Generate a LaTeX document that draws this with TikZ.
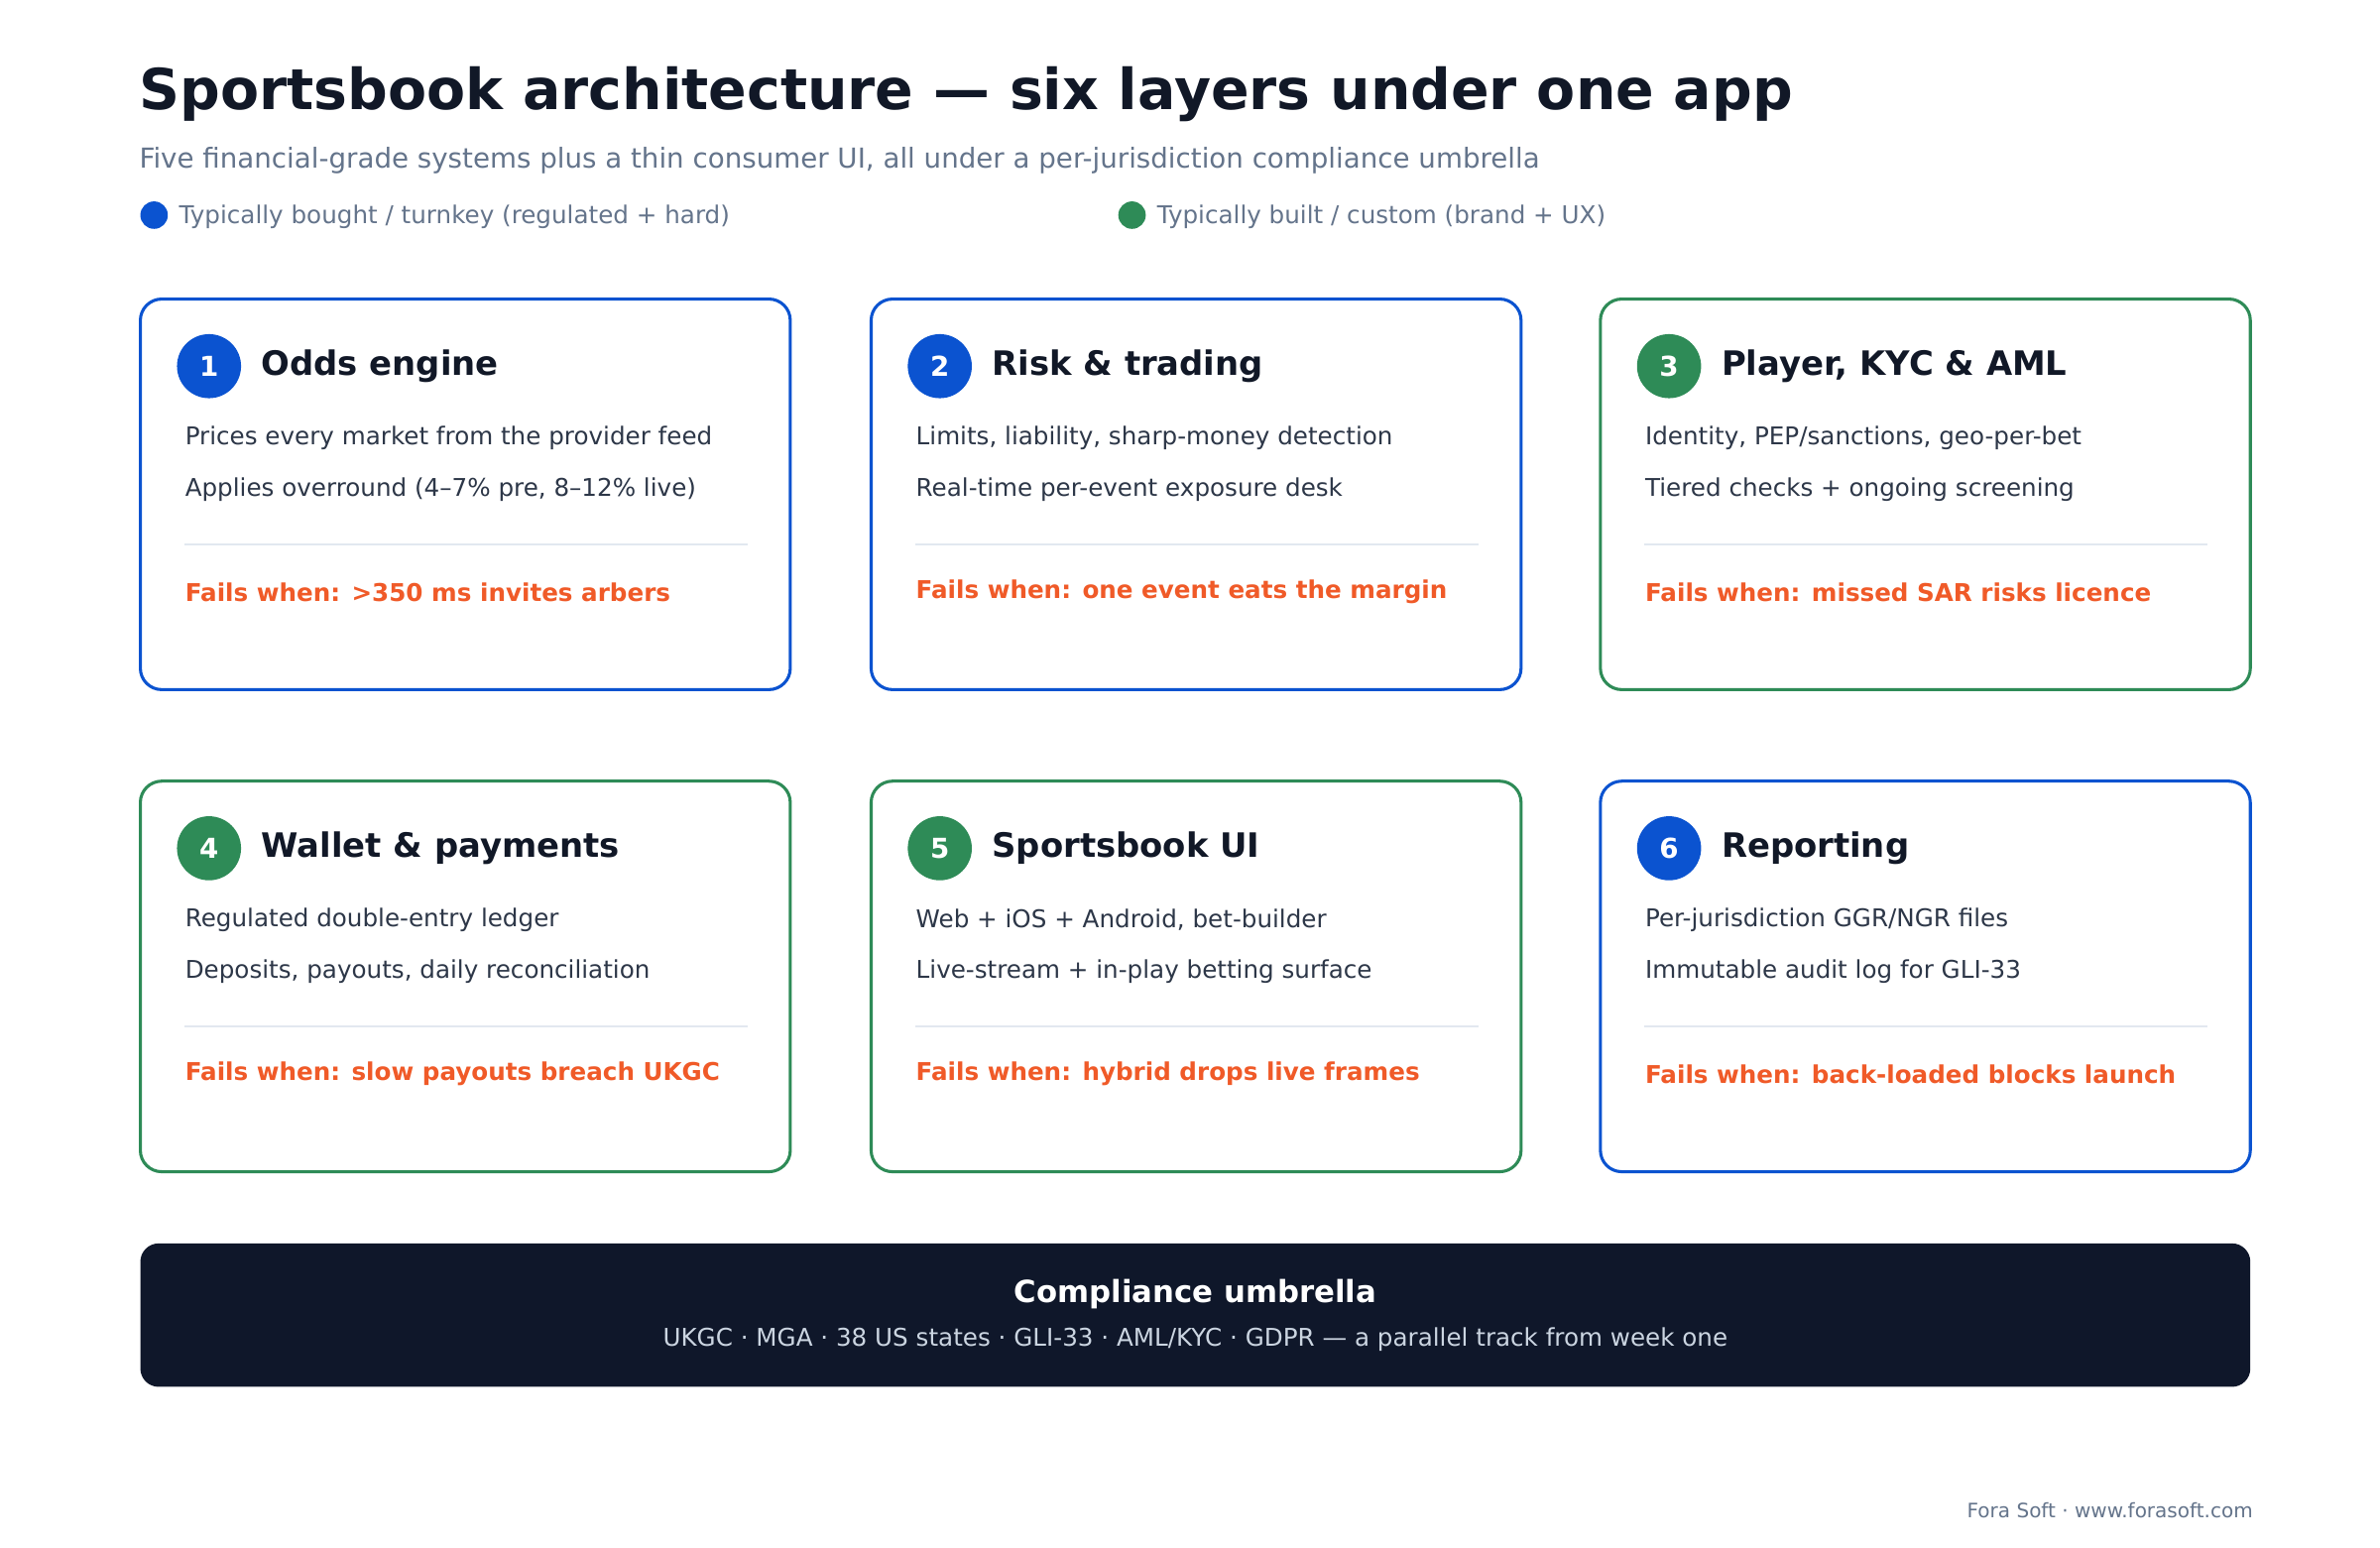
\documentclass[tikz,border=0pt]{standalone}
\usepackage{fontspec}
\setmainfont{DejaVu Sans}
\definecolor{bblue}{HTML}{0B53D0}
\definecolor{bgreen}{HTML}{2E8B57}
\definecolor{ink}{HTML}{111827}
\definecolor{body}{HTML}{2D3748}
\definecolor{muted}{HTML}{64748B}
\definecolor{fail}{HTML}{F05A28}
\definecolor{navy}{HTML}{0F172A}
\definecolor{rule}{HTML}{E2E8F0}
\definecolor{light}{HTML}{CBD5E1}
\newcommand{\mycard}[8]{%
 \draw[card=#4] (#2,#3) rectangle ++(426,256);
 \node[badge=#4] (b#1) at (#2+45,#3+44) {#1};
 \node[ctitle] (t#1) at (#2+79,#3+44) {#5};
 \node[cline] (la#1) at (#2+29,#3+91) {#6};
 \node[cline] (lb#1) at (#2+29,#3+125) {#7};
 \draw[rule,line width=0.6pt] (#2+29,#3+161) -- (#2+398,#3+161);
 \node[cfail] (f#1) at (#2+29,#3+192) {#8};}
\begin{document}
\begin{tikzpicture}[x=0.5pt,y=-0.5pt,
 card/.style={draw=#1,line width=1pt,rounded corners=7pt,fill=white},
 badge/.style={circle,fill=#1,minimum size=21pt,inner sep=0,text=white,font=\bfseries\fontsize{9}{10}\selectfont},
 ctitle/.style={anchor=west,inner sep=0,text=ink,font=\bfseries\fontsize{11}{13}\selectfont},
 cline/.style={anchor=west,inner sep=0,text=body,font=\fontsize{8}{10}\selectfont},
 cfail/.style={anchor=west,inner sep=0,text=fail,font=\bfseries\fontsize{8}{10}\selectfont}]
\useasboundingbox[fill=white] (0,0) rectangle (1560,1014);
\node[anchor=base west,inner sep=0,text=ink,font=\bfseries\fontsize{18.5}{22}\selectfont] (title) at (91,72) {Sportsbook architecture — six layers under one app};
\node[anchor=base west,inner sep=0,text=muted,font=\fontsize{9}{11}\selectfont] (sub) at (91,110) {Five financial-grade systems plus a thin consumer UI, all under a per-jurisdiction compliance umbrella};
\node[circle,fill=bblue,minimum size=9pt,inner sep=0] (lb) at (101,141) {};
\node[anchor=west,inner sep=0,text=muted,font=\fontsize{8}{10}\selectfont] (lbt) at (117,142) {Typically bought / turnkey (regulated + hard)};
\node[circle,fill=bgreen,minimum size=9pt,inner sep=0] (lg) at (742,141) {};
\node[anchor=west,inner sep=0,text=muted,font=\fontsize{8}{10}\selectfont] (lgt) at (758,142) {Typically built / custom (brand + UX)};
\mycard{1}{92}{196}{bblue}{Odds engine}{Prices every market from the provider feed}{Applies overround (4–7\% pre, 8–12\% live)}{Fails when: >350 ms invites arbers}
\mycard{2}{571}{196}{bblue}{Risk \& trading}{Limits, liability, sharp-money detection}{Real-time per-event exposure desk}{Fails when: one event eats the margin}
\mycard{3}{1049}{196}{bgreen}{Player, KYC \& AML}{Identity, PEP/sanctions, geo-per-bet}{Tiered checks + ongoing screening}{Fails when: missed SAR risks licence}
\mycard{4}{92}{512}{bgreen}{Wallet \& payments}{Regulated double-entry ledger}{Deposits, payouts, daily reconciliation}{Fails when: slow payouts breach UKGC}
\mycard{5}{571}{512}{bgreen}{Sportsbook UI}{Web + iOS + Android, bet-builder}{Live-stream + in-play betting surface}{Fails when: hybrid drops live frames}
\mycard{6}{1049}{512}{bblue}{Reporting}{Per-jurisdiction GGR/NGR files}{Immutable audit log for GLI-33}{Fails when: back-loaded blocks launch}
\fill[navy,rounded corners=6pt] (92,815) rectangle (1475,909);
\node[inner sep=0,text=white,font=\bfseries\fontsize{10}{12}\selectfont] (ct) at (783.5,848) {Compliance umbrella};
\node[inner sep=0,text=light,font=\fontsize{8}{10}\selectfont] (cl) at (783.5,878) {UKGC · MGA · 38 US states · GLI-33 · AML/KYC · GDPR — a parallel track from week one};
\node[anchor=east,inner sep=0,text=muted,font=\fontsize{6.5}{8}\selectfont] (ft) at (1477,990) {Fora Soft · www.forasoft.com};
\end{tikzpicture}
\end{document}
